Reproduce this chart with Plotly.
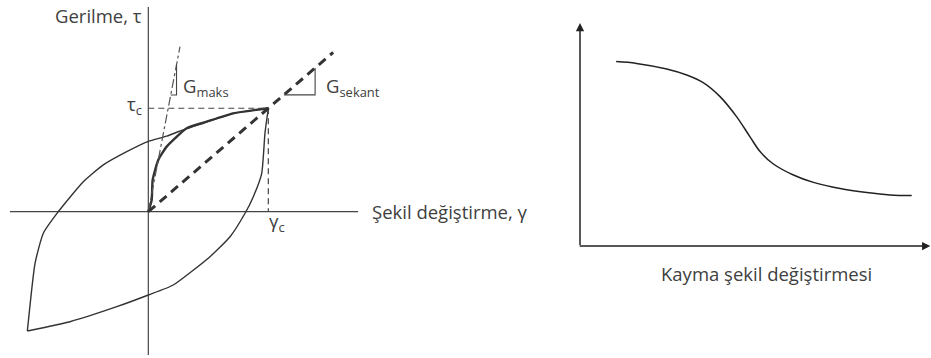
import plotly.graph_objects as go

# Left panel: hysteresis loop, units gamma/gamma_c and tau/tau_c
loop_up_x = [-1.008, -0.944, -0.875, -0.75, -0.542, -0.375, -0.18, 0.0, 0.153, 0.32, 0.487, 0.708, 1.0]
loop_up_y = [-1.154, -0.499, -0.209, 0.0, 0.29, 0.452, 0.58, 0.68, 0.73, 0.806, 0.87, 0.951, 1.0]
loop_down_x = [1.0, 0.972, 0.945, 0.875, 0.806, 0.681, 0.514, 0.208, 0.0, -0.263, -0.653, -1.008]
loop_down_y = [1.0, 0.758, 0.371, 0.145, -0.015, -0.242, -0.435, -0.709, -0.806, -0.919, -1.064, -1.154]
backbone_x = [0.0, 0.028, 0.036, 0.083, 0.153, 0.32, 0.487, 0.708, 1.0]
backbone_y = [0.0, 0.113, 0.307, 0.5, 0.629, 0.806, 0.87, 0.951, 1.0]
gmax_x = [0.0, 0.264]
gmax_y = [0.0, 1.596]
gmax_tri_x = [0.187, 0.235, 0.235]
gmax_tri_y = [1.129, 1.129, 1.42]
secant_x = [0.0, 1.0, 1.54]
secant_y = [0.0, 1.0, 1.54]
sec_tri_x = [1.13, 1.39, 1.39]
sec_tri_y = [1.13, 1.13, 1.39]
gamma_c, tau_c = 1.0, 1.0

# Right panel: modulus reduction curve
strain = [0.103, 0.161, 0.247, 0.304, 0.351, 0.399, 0.446, 0.484, 0.513, 0.551,
          0.608, 0.665, 0.741, 0.817, 0.883, 0.945]
g_ratio = [0.912, 0.903, 0.875, 0.845, 0.807, 0.737, 0.637, 0.537, 0.462, 0.4,
           0.345, 0.308, 0.277, 0.257, 0.245, 0.242]

INK = "#333333"
FONT = "Open Sans"

fig = go.Figure()


def line(x, y, width=1.4, dash="solid", color=INK, axes=("x", "y"), smooth=0):
    shape = "spline" if smooth else "linear"
    style = dict(color=color, width=width, dash=dash, shape=shape)
    if smooth:
        style["smoothing"] = smooth
    fig.add_trace(go.Scatter(x=x, y=y, mode="lines", xaxis=axes[0], yaxis=axes[1],
                             line=style, hoverinfo="skip", showlegend=False))


# axes of the left panel
line([-1.153, 1.748], [0, 0], width=1.2, color="#444")
line([0, 0], [-1.386, 1.98], width=1.2, color="#444")

# loop
line(loop_up_x, loop_up_y, smooth=0.5)
line(loop_down_x, loop_down_y, smooth=0.5)
line(backbone_x, backbone_y, width=2.4, smooth=0.5)

# reference lines
line([0, gamma_c], [tau_c, tau_c], width=1.2, dash="6px,4px", color="#444")
line([gamma_c, gamma_c], [tau_c, 0], width=1.2, dash="6px,4px", color="#444")
line(gmax_x, gmax_y, width=1.2, dash="dashdot", color="#555")
line(gmax_tri_x, gmax_tri_y, width=1.1, color="#444")
line(secant_x, secant_y, width=3, dash="9px,6px", color="#333")
line(sec_tri_x, sec_tri_y, width=1.1, color="#444")

# right panel curve
line(strain, g_ratio, width=1.5, color="#222", axes=("x2", "y2"), smooth=1)

tfont = dict(family=FONT, size=18.5, color="#404040")
annotations = [
    dict(x=-0.04, y=1.9, xref="x", yref="y", text="Gerilme, τ", showarrow=False,
         xanchor="right", font=tfont),
    dict(x=1.85, y=0.0, xref="x", yref="y", text="Şekil değiştirme, γ", showarrow=False,
         xanchor="left", font=tfont),
    dict(x=-0.04, y=tau_c + 0.03, xref="x", yref="y", text="τ<sub>c</sub>", showarrow=False,
         xanchor="right", font=tfont),
    dict(x=gamma_c + 0.07, y=-0.1, xref="x", yref="y", text="γ<sub>c</sub>", showarrow=False,
         font=tfont),
    dict(x=0.27, y=1.21, xref="x", yref="y", text="G<sub>maks</sub>", showarrow=False,
         xanchor="left", font=tfont),
    dict(x=1.46, y=1.21, xref="x", yref="y", text="G<sub>sekant</sub>", showarrow=False,
         xanchor="left", font=tfont),
    # right panel axes with arrows
    dict(x=0, y=1.105, ax=0, ay=-0.012, xref="x2", yref="y2", axref="x2", ayref="y2",
         text="", showarrow=True, arrowhead=2, arrowsize=1.1, arrowwidth=1.5, arrowcolor="#222"),
    dict(x=0.998, y=-0.01, ax=-0.005, ay=-0.01, xref="x2", yref="y2", axref="x2", ayref="y2",
         text="", showarrow=True, arrowhead=2, arrowsize=1.1, arrowwidth=1.5, arrowcolor="#222"),
    dict(x=-0.05, y=0.55, xref="x2", yref="y2", text="G/G<sub>maks</sub>", showarrow=False,
         textangle=-90, font=tfont),
    dict(x=0.53, y=-0.145, xref="x2", yref="y2", text="Kayma şekil değiştirmesi",
         showarrow=False, font=tfont),
]

hidden = dict(visible=False, fixedrange=True)
fig.update_layout(
    width=931, height=358,
    margin=dict(l=0, r=0, t=0, b=0),
    paper_bgcolor="white", plot_bgcolor="white",
    xaxis=dict(domain=[0, 540 / 931], range=[-1.236, 3.264], **hidden),
    yaxis=dict(domain=[0, 1], range=[-1.415, 2.047], **hidden),
    xaxis2=dict(domain=[580 / 931, 1], range=[0, 1], **hidden),
    yaxis2=dict(domain=[0, 1], range=[-0.57, 1.22], anchor="x2", **hidden),
    annotations=annotations,
    showlegend=False,
)

fig.write_html("out.html", post_script="document.body.style.margin='0';",
               config=dict(displayModeBar=False))
